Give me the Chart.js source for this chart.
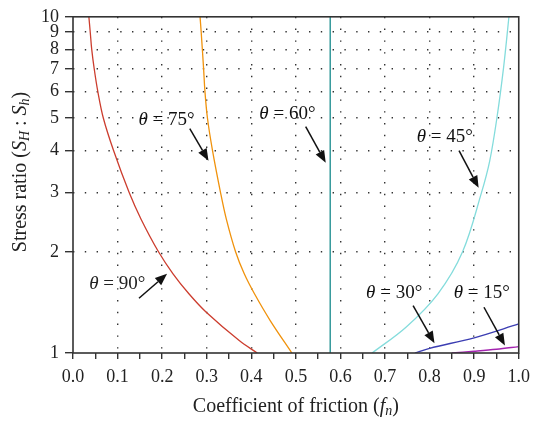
<!DOCTYPE html>
<html>
<head>
<meta charset="utf-8">
<script src="https://cdn.jsdelivr.net/npm/chart.js@4.4.1/dist/chart.umd.min.js"></script>
<style>
  html, body { margin: 0; padding: 0; background: #fff; }
  #wrap { width: 537px; height: 421px; }
</style>
</head>
<body>
<div id="wrap"><canvas id="frictionChart"></canvas></div>
<script>
// friction coefficient (x) against stress ratio SH:Sh (y), one pair per fault angle
const f90 = [0.0356, 0.0387, 0.042, 0.0476, 0.0556, 0.068, 0.091, 0.126, 0.1527, 0.1918, 0.2244, 0.26, 0.2989, 0.3729, 0.4133];
const r90 = [10, 9, 8, 7, 6, 5, 4, 3, 2.5, 2, 1.72, 1.5, 1.322, 1.089, 1];

const f75 = [0.285, 0.2876, 0.293, 0.296, 0.3016, 0.313, 0.331, 0.344, 0.3647, 0.3842, 0.4071, 0.4424, 0.491];
const r75 = [10, 9, 7, 6, 5, 4, 3, 2.5, 2, 1.72, 1.5, 1.249, 1];

const f60 = [0.577, 0.577];
const r60 = [1, 10];

const f45 = [0.671, 0.747, 0.8187, 0.874, 0.9164, 0.9349, 0.951, 0.966, 0.978];
const r45 = [1, 1.193, 1.50, 2, 3, 3.73, 5, 7.07, 10];

const f30 = [0.767, 0.8, 0.9, 1.0];
const r30 = [1, 1.033, 1.11, 1.22];

const f15 = [0.850, 0.9, 0.95, 1.0];
const r15 = [1, 1.012, 1.026, 1.045];

// axis ticks
const xTicks = [0, 0.05, 0.1, 0.15, 0.2, 0.25, 0.3, 0.35, 0.4, 0.45, 0.5,
                0.55, 0.6, 0.65, 0.7, 0.75, 0.8, 0.85, 0.9, 0.95, 1];
const yTicks = [1, 2, 3, 4, 5, 6, 7, 8, 9, 10];

// curve labels: text angle, label centre, arrow tail and arrow head (data units)
const labelAngles = ['90', '75', '60', '45', '30', '15'];
const labelAt = [[0.0993, 1.61], [0.210, 4.97], [0.481, 5.18], [0.834, 4.43], [0.7205, 1.516], [0.917, 1.516]];
const arrowFrom = [[0.148, 1.455], [0.262, 4.65], [0.522, 4.71], [0.866, 4.0], [0.763, 1.384], [0.922, 1.368]];
const arrowTo = [[0.211, 1.72], [0.304, 3.73], [0.567, 3.68], [0.910, 3.10], [0.811, 1.069], [0.969, 1.053]];

const SERIF = '"Liberation Serif", "DejaVu Serif", serif';
const INK = '#333333';

function pts(xs, ys) {
  return xs.map((v, i) => ({ x: v, y: ys[i] }));
}

function curve(xs, ys, color) {
  return {
    data: pts(xs, ys),
    borderColor: color,
    borderWidth: 1.3,
    showLine: true,
    pointRadius: 0,
    tension: 0.35,
    fill: false
  };
}

// draw a row of text pieces (font, text, baseline shift) centred on cx
function drawRuns(ctx, runs, cx, cy) {
  let total = 0;
  runs.forEach(r => { ctx.font = r.font; total += ctx.measureText(r.text).width; });
  let x = cx - total / 2;
  ctx.textAlign = 'left';
  ctx.textBaseline = 'alphabetic';
  runs.forEach(r => {
    ctx.font = r.font;
    ctx.fillText(r.text, x, cy + (r.dy || 0));
    x += ctx.measureText(r.text).width;
  });
}

function arrow(ctx, x0, y0, x1, y1) {
  const a = Math.atan2(y1 - y0, x1 - x0);
  const len = 12, half = 4.8;
  const bx = x1 - len * Math.cos(a), by = y1 - len * Math.sin(a);
  ctx.beginPath();
  ctx.moveTo(x0, y0);
  ctx.lineTo(bx, by);
  ctx.lineWidth = 1.5;
  ctx.strokeStyle = '#111';
  ctx.stroke();
  ctx.beginPath();
  ctx.moveTo(x1, y1);
  ctx.lineTo(bx + half * Math.sin(a), by - half * Math.cos(a));
  ctx.lineTo(bx - half * Math.sin(a), by + half * Math.cos(a));
  ctx.closePath();
  ctx.fillStyle = '#111';
  ctx.fill();
}

const decorations = {
  id: 'decorations',
  afterDatasetsDraw(chart) {
    const { ctx, chartArea: ca, scales: { x, y } } = chart;
    ctx.save();

    // frame round the plot
    ctx.strokeStyle = INK;
    ctx.lineWidth = 1.6;
    ctx.strokeRect(ca.left, ca.top, ca.right - ca.left, ca.bottom - ca.top);

    // angle labels with arrows
    ctx.fillStyle = '#222';
    labelAngles.forEach((ang, i) => {
      const cx = x.getPixelForValue(labelAt[i][0]);
      const cy = y.getPixelForValue(labelAt[i][1]) + 6;
      drawRuns(ctx, [
        { font: 'italic 19px ' + SERIF, text: 'θ' },
        { font: '19px ' + SERIF, text: ' = ' + ang + '°' }
      ], cx, cy);
      arrow(ctx,
        x.getPixelForValue(arrowFrom[i][0]), y.getPixelForValue(arrowFrom[i][1]),
        x.getPixelForValue(arrowTo[i][0]), y.getPixelForValue(arrowTo[i][1]));
    });

    // axis titles
    ctx.fillStyle = '#222';
    drawRuns(ctx, [
      { font: '20px ' + SERIF, text: 'Coefficient of friction (' },
      { font: 'italic 20px ' + SERIF, text: 'f' },
      { font: 'italic 14px ' + SERIF, text: 'n', dy: 3 },
      { font: '20px ' + SERIF, text: ')' }
    ], (ca.left + ca.right) / 2, 412);

    ctx.translate(26, 172);
    ctx.rotate(-Math.PI / 2);
    drawRuns(ctx, [
      { font: '20px ' + SERIF, text: 'Stress ratio (' },
      { font: 'italic 20px ' + SERIF, text: 'S' },
      { font: 'italic 14px ' + SERIF, text: 'H', dy: 3 },
      { font: '20px ' + SERIF, text: ' : ' },
      { font: 'italic 20px ' + SERIF, text: 'S' },
      { font: 'italic 14px ' + SERIF, text: 'h', dy: 3 },
      { font: '20px ' + SERIF, text: ')' }
    ], 0, 0);

    ctx.restore();
  }
};

const isMinor = v => Math.round(v * 100) % 10 !== 0;

const frictionConfig = {
  type: 'scatter',
  data: {
    datasets: [
      curve(f90, r90, '#cc3d2e'),
      curve(f75, r75, '#f0920c'),
      curve(f60, r60, '#168a8c'),
      curve(f45, r45, '#84dcdc'),
      curve(f30, r30, '#3b3db2'),
      curve(f15, r15, '#a424b0')
    ]
  },
  options: {
    responsive: false,
    animation: false,
    layout: { padding: { top: 16, right: 14, left: 0, bottom: 0 } },
    plugins: { legend: { display: false }, tooltip: { enabled: false } },
    scales: {
      x: {
        type: 'linear',
        min: 0,
        max: 1,
        afterBuildTicks: s => { s.ticks = xTicks.map(v => ({ value: v })); },
        afterFit: s => { s.height = 68; },
        grid: {
          color: c => (c.tick && (isMinor(c.tick.value) || c.tick.value === 0 || c.tick.value === 1)) ? 'rgba(0,0,0,0)' : INK,
          lineWidth: 1.4,
          tickColor: INK,
          tickWidth: 1.4,
          tickLength: 6
        },
        border: { display: false, dash: [1.4, 10.4] },
        ticks: {
          autoSkip: false,
          maxRotation: 0,
          padding: 7,
          color: '#222',
          font: { family: SERIF, size: 18 },
          callback: v => isMinor(v) ? '' : v.toFixed(1)
        }
      },
      y: {
        type: 'logarithmic',
        min: 1,
        max: 10,
        afterBuildTicks: s => { s.ticks = yTicks.map(v => ({ value: v })); },
        afterFit: s => { s.width = 73; },
        grid: {
          color: c => (c.tick && (c.tick.value === 1 || c.tick.value === 10)) ? 'rgba(0,0,0,0)' : INK,
          lineWidth: 1.4,
          tickColor: INK,
          tickWidth: 1.4,
          tickLength: 8
        },
        border: { display: false, dash: [1.4, 10.4] },
        ticks: {
          autoSkip: false,
          padding: 6,
          color: '#222',
          font: { family: SERIF, size: 18 },
          callback: v => String(v)
        }
      }
    }
  },
  plugins: [decorations]
};

const canvas = document.getElementById('frictionChart');
canvas.width = 537;
canvas.height = 421;
window.frictionChart = new Chart(canvas, frictionConfig);
</script>
</body>
</html>
